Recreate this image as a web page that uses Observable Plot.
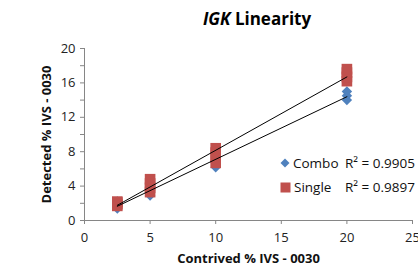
<!DOCTYPE html>
<html>
<head>
<meta charset="utf-8">
<script src="https://cdn.jsdelivr.net/npm/d3@7"></script>
<script src="https://cdn.jsdelivr.net/npm/@observablehq/plot@0.6"></script>
<style>
  html, body { margin: 0; padding: 0; background: #fff; }
  body { width: 418px; height: 269px; overflow: hidden; font-family: "Open Sans", sans-serif; position: relative; }
  #title { height: 30px; line-height: 38px; font-size: 17px; font-weight: bold; text-align: center; padding-left: 96px; box-sizing: border-box; width: 418px; color: #000; }
  svg { display: block; }
  .leg { position: absolute; font-size: 13.5px; color: #111; height: 16px; display: flex; align-items: center; white-space: nowrap; }
  .leg svg { display: block; margin-right: 3px; }
</style>
</head>
<body>
<div id="title"><i>IGK</i> Linearity</div>
<div id="chart"></div>
<script>
// ---- data ----
const comboX = [2.5, 2.5, 2.5, 5, 5, 5, 10, 10, 10, 20, 20, 20];
const comboY = [1.4, 1.8, 2.2, 2.9, 3.5, 4.0, 6.2, 6.9, 7.5, 14.0, 14.5, 15.0];
const singleX = [2.5, 2.5, 2.5, 2.5, 5, 5, 5, 5, 10, 10, 10, 10, 20, 20, 20, 20];
const singleY = [1.7, 1.9, 2.1, 2.2, 3.3, 3.8, 4.3, 4.8, 6.7, 7.3, 7.9, 8.4, 16.2, 16.7, 17.2, 17.6];
const seriesNames = ["Combo", "Single"];
const r2Labels = ["R\u00B2 = 0.9905", "R\u00B2 = 0.9897"];
const xTicks = [0, 5, 10, 15, 20, 25];
const yTicks = [0, 2, 4, 6, 8, 10, 12, 14, 16, 18, 20];
const xLabel = "Contrived % IVS - 0030";
const yLabel = "Detected % IVS - 0030";

const combo = comboX.map((x, i) => ({x, y: comboY[i]}));
const single = singleX.map((x, i) => ({x, y: singleY[i]}));
const blue = "#4F81BD", red = "#C0504D", axisGray = "#868686";

const chart = Plot.plot({
  width: 418,
  height: 239,
  marginLeft: 84,
  marginRight: 6,
  marginTop: 18,
  marginBottom: 49,
  style: {fontFamily: "Open Sans, sans-serif", fontSize: "13px", color: "#222", background: "#fff"},
  x: {domain: [0, 25]},
  y: {domain: [0, 20]},
  marks: [
    Plot.axisX({ticks: xTicks, tickSize: 4, tickPadding: 8, stroke: axisGray, fill: "#222", label: null, fontSize: 13}),
    Plot.axisY({ticks: yTicks, tickSize: 4, tickPadding: 5, stroke: axisGray, fill: "#222", label: null, fontSize: 13,
      tickFormat: d => d % 4 === 0 ? String(d) : ""}),
    Plot.axisX({ticks: [], label: xLabel, labelAnchor: "center", labelArrow: "none", labelOffset: 42, fontWeight: "bold", fontSize: 13, fill: "#111", dx: 12}),
    Plot.axisY({ticks: [], label: yLabel, labelAnchor: "center", labelArrow: "none", labelOffset: 43, fontWeight: "bold", fontSize: 13, fill: "#111", dy: -8}),
    Plot.ruleY([0], {stroke: axisGray}),
    Plot.ruleX([0], {stroke: axisGray}),
    Plot.dot(combo, {x: "x", y: "y", symbol: "diamond2", r: 4.7, fill: blue, stroke: null}),
    Plot.dot(single, {x: "x", y: "y", symbol: "square", r: 6, fill: red, stroke: null}),
    Plot.linearRegressionY(combo, {x: "x", y: "y", stroke: "#000", strokeWidth: 1, ci: 0}),
    Plot.linearRegressionY(single, {x: "x", y: "y", stroke: "#000", strokeWidth: 1, ci: 0})
  ]
});
document.getElementById("chart").appendChild(chart);

// legend (overlaid inside the plot area)
const markers = [
  `<svg width="10" height="10"><path d="M5 0.5L9.5 5L5 9.5L0.5 5Z" fill="${blue}"/></svg>`,
  `<svg width="11" height="11"><rect x="0.5" y="0.5" width="10" height="10" fill="${red}"/></svg>`
];
seriesNames.forEach((name, i) => {
  const top = 155 + i * 24;
  const a = document.createElement("div");
  a.className = "leg";
  a.style.left = "280px"; a.style.top = top + "px";
  a.innerHTML = markers[i] + `<span>${name}</span>`;
  document.body.appendChild(a);
  const b = document.createElement("div");
  b.className = "leg";
  b.style.left = "345px"; b.style.top = top + "px";
  b.innerHTML = `<span>${r2Labels[i]}</span>`;
  document.body.appendChild(b);
});
</script>
</body>
</html>
